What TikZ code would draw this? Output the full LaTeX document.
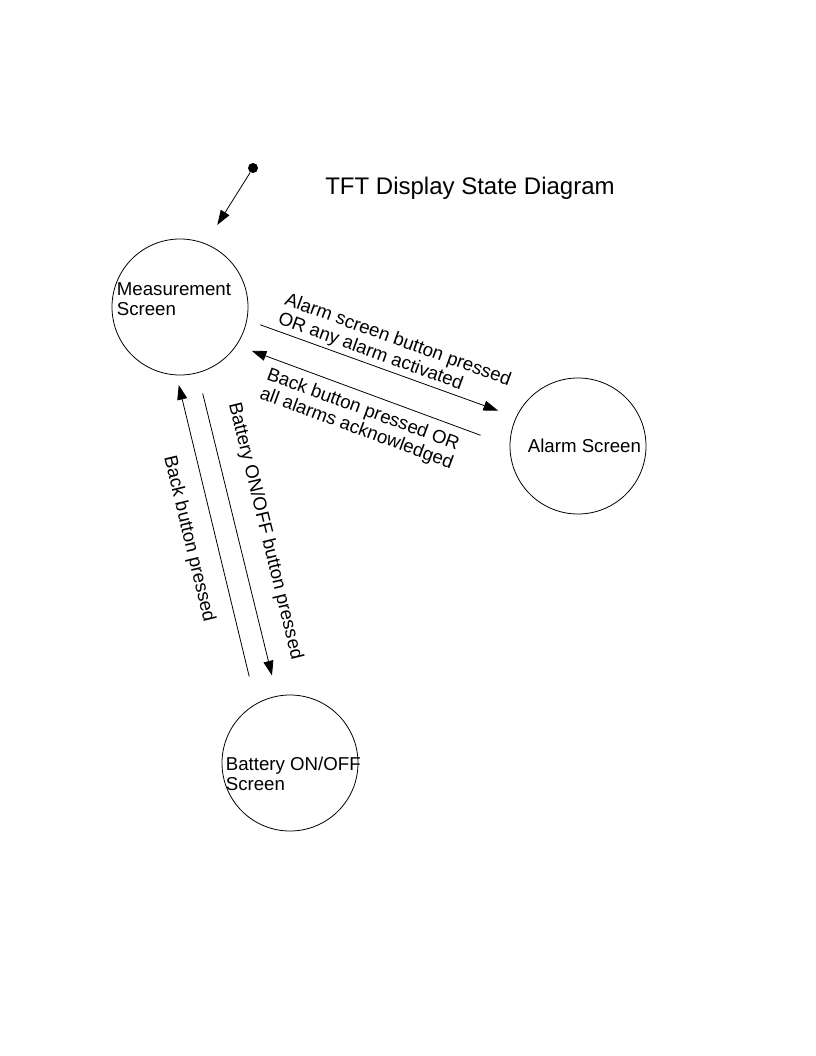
\documentclass[tikz,border=0pt]{standalone}
\usepackage{fontspec}
\setmainfont{Liberation Sans}
\usetikzlibrary{arrows.meta, positioning}

\begin{document}
\begin{tikzpicture}[x=0.75pt, y=-0.75pt, font=\fontsize{14}{15}\selectfont]
        \tikzset{
            % Define standard arrow tip
            >={Triangle[length=11pt, width=7.5pt]},
            % Define style for the screens
            screen/.style={
                    circle,
                    draw=black, line width=0.6pt,
                    minimum size=102pt,
                    inner sep=0pt},
            % Define style for the screen names
            screenname/.style={
                    align=left,
                    inner sep=0pt,
                    anchor=west},
            % Define arrow style
            pil/.style={
                    ->,
                    line width=0.6pt},
            % Define style for the arrow texts
            pilname/.style={
                    sloped,
                    align=left,
                    inner sep=0pt},
        }
        \useasboundingbox (0,0) rectangle (816,1056);

        % Draw the title
        \node (title) at (470,188) {\fontsize{18}{20}\selectfont TFT Display State Diagram};

        % Draw the states
        \node[fill, circle, inner sep=0pt, minimum size=7.5pt] (start) at (253,168) {};
        \node[screen, label={[screenname, xshift=3.75pt, yshift=6pt]west:Measurement\\Screen}] (meas) at (180,307) {};
        \node[screen, label={[screenname, xshift=13.5pt]west:Alarm Screen}] (alarm) at (578,446) {};
        \node[screen, label={[screenname, xshift=3pt, yshift=-8pt]west:Battery ON/OFF\\Screen}] (batt) at (290,763) {};

        % Connect the states with arrows
        \draw[pil, shorten >=16.5pt] (start) -- (meas.68);
        \draw[pil, shorten <=10.5pt, shorten >=14.25pt] (meas.-11) -- node[pilname, above=2pt, pos=0.52] {Alarm screen button pressed\\OR any alarm activated} (alarm.155);
        \draw[pil, shorten <=23.25pt, shorten >=12pt] (alarm.180) -- node[pilname, below=6pt, pos=0.514] {Back button pressed OR\\all alarms acknowledged} (meas.-34.5);
        \draw[pil, shorten <=15.75pt, shorten >=15.75pt] (meas.-75.5) -- node[pilname, above=14pt, pos=0.51] {Battery ON/OFF button pressed} (batt.101);
        \draw[pil, shorten <=21pt, shorten >=7.5pt] (batt.120.4) -- node[pilname, below=13pt, pos=0.52] {Back button pressed} (meas.-93.8);

    \end{tikzpicture}
\end{document}
